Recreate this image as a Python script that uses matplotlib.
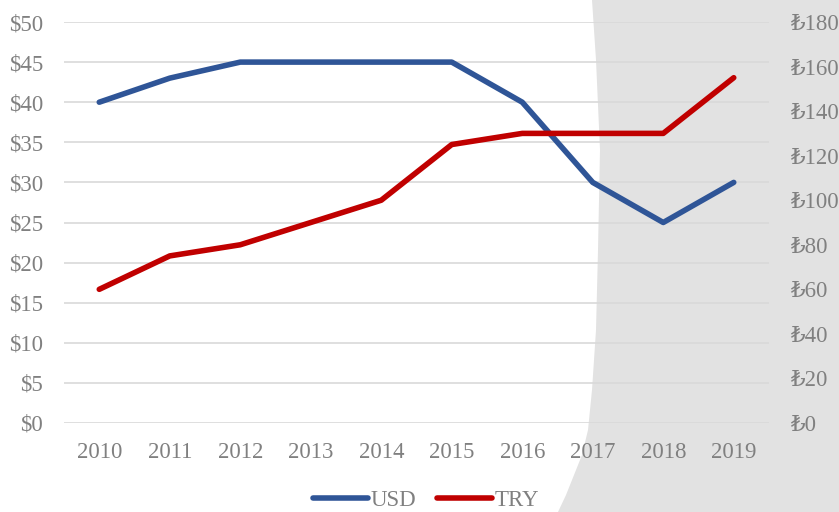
import numpy as np
import matplotlib.pyplot as plt
from matplotlib.patches import Polygon

years = ['2010', '2011', '2012', '2013', '2014', '2015', '2016', '2017', '2018', '2019']
usd = [40, 43, 45, 45, 45, 45, 40, 30, 25, 30]
try_vals = [60, 75, 80, 90, 100, 125, 130, 130, 130, 155]
usd_ticks = [0, 5, 10, 15, 20, 25, 30, 35, 40, 45, 50]
try_ticks = [0, 20, 40, 60, 80, 100, 120, 140, 160, 180]

fonts = ['Liberation Serif', 'DejaVu Serif']
plt.rcParams['font.family'] = fonts
txt = '#808080'
fs = 16.5

W, H = 839, 512
fig = plt.figure(figsize=(W / 100, H / 100), dpi=100)

# grey paper texture on the right (flat patch with a ragged left edge)
edge = [(592, 0), (596, 60), (600, 150), (598, 250), (596, 330), (592, 390),
        (588, 430), (582, 455), (574, 475), (566, 495), (558, 512)]
pts = [(x / W, 1 - y / H) for x, y in edge] + [(1, 0), (1, 1)]
bg = fig.add_axes([0, 0, 1, 1], zorder=-1)
bg.axis('off')
bg.add_patch(Polygon(pts, closed=True, transform=fig.transFigure,
                     facecolor='#e2e2e2', edgecolor='none'))

ax = fig.add_axes([64 / W, 1 - 423 / H, (769 - 64) / W, (423 - 22) / H])
ax.patch.set_alpha(0)
x = np.arange(len(years))

ax.set_ylim(0, 50)
ax.set_yticks(usd_ticks)
ax.set_yticklabels(['$%d' % v for v in usd_ticks])
ax.set_xlim(-0.5, len(years) - 0.5)
ax.set_xticks(x)
ax.set_xticklabels(years)
ax.grid(axis='y', color='#d9d9d9', linewidth=1.2)
ax.set_axisbelow(True)
for s in ax.spines.values():
    s.set_visible(False)
ax.tick_params(length=0, labelsize=fs, labelcolor=txt)
ax.tick_params(axis='x', pad=14)
ax.tick_params(axis='y', pad=15)

l1, = ax.plot(x, usd, color='#2f5597', linewidth=4, solid_capstyle='round',
              solid_joinstyle='round', label='USD', zorder=3)

ax2 = ax.twinx()
ax2.set_ylim(0, 180)
ax2.set_yticks(try_ticks)
ax2.set_yticklabels(['\u20ba%d' % v for v in try_ticks])
for s in ax2.spines.values():
    s.set_visible(False)
ax2.tick_params(length=0, labelsize=fs, labelcolor=txt, pad=15)
l2, = ax2.plot(x, try_vals, color='#c00000', linewidth=4, solid_capstyle='round',
               solid_joinstyle='round', label='TRY', zorder=3)

fig.legend(handles=[l1, l2], loc='center', bbox_to_anchor=(426 / W, 1 - 500 / H),
           ncol=2, frameon=False, fontsize=fs, labelcolor=txt,
           handlelength=2.4, handletextpad=0.1, columnspacing=0.9)

fig.savefig('out.png', dpi=100)
